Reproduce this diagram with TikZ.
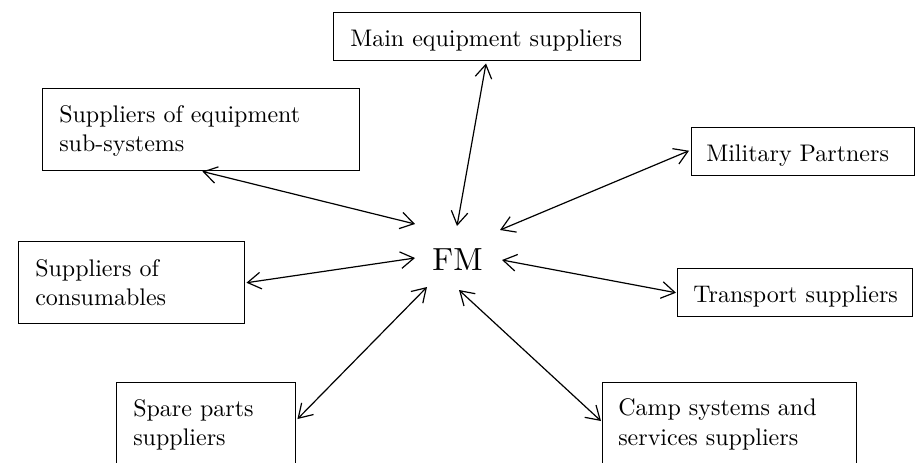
\documentclass[tikz,border=0pt]{standalone}
\usepackage{fontspec}
% Latin Modern in its 10pt design, also at the large sizes used here
\setmainfont{lmroman10-regular}[Extension=.otf]
\usetikzlibrary{arrows.meta,calc}
\begin{document}
\begin{tikzpicture}[x=0.75pt,y=-0.75pt,
  box/.style={draw, line width=1.1pt, inner sep=0pt, anchor=north west},
  lbl/.style={inner sep=0pt, anchor=base west, align=left,
              font=\fontsize{18}{22}\selectfont},
  barb/.tip={Straight Barb[length=10pt,width=12.5pt,line width=0.9pt]},
  link/.style={line width=0.9pt, barb-barb}
]
\useasboundingbox (0,0) rectangle (917,462);

% partner boxes (position = top-left corner, sizes in px)
\node[box, minimum width=307*0.75pt, minimum height=48*0.75pt]  (main)  at (333,12)  {};
\node[box, minimum width=317*0.75pt, minimum height=82*0.75pt]  (sub)   at (42,88)   {};
\node[box, minimum width=226*0.75pt, minimum height=82*0.75pt]  (cons)  at (18,241)  {};
\node[box, minimum width=179*0.75pt, minimum height=100*0.75pt] (spare) at (116,382) {};
\node[box, minimum width=254*0.75pt, minimum height=100*0.75pt] (camp)  at (602,382) {};
\node[box, minimum width=223*0.75pt, minimum height=48*0.75pt]  (mil)   at (691,127) {};
\node[box, minimum width=235*0.75pt, minimum height=48*0.75pt]  (trans) at (677,268) {};

% box captions: one-line captions sit on their baseline 34px below the top,
% two-line captions are placed by the baseline of their second line
\node[lbl] (main-t)  at ($(main.north west)+(17,34)$)    {Main equipment suppliers};
\node[lbl] (sub-t)   at ($(sub.north west)+(17,63.5)$)   {Suppliers of equipment\\sub-systems};
\node[lbl] (cons-t)  at ($(cons.north west)+(17,64.5)$)  {Suppliers of\\consumables};
\node[lbl] (spare-t) at ($(spare.north west)+(17,63.5)$) {Spare parts\\suppliers};
\node[lbl] (camp-t)  at ($(camp.north west)+(16,63)$)    {Camp systems and\\services suppliers};
\node[lbl] (mil-t)   at ($(mil.north west)+(15,34)$)     {Military Partners};
\node[lbl] (trans-t) at ($(trans.north west)+(16,34)$)   {Transport suppliers};

% central actor
\node[inner sep=0pt, font=\fontsize{24}{28}\selectfont] (fm) at (457.5,260) {FM};

% connector ends around FM
\coordinate (f-main)  at ($(fm)+(-0.5,-34)$);
\coordinate (f-sub)   at ($(fm)+(-42.5,-36)$);
\coordinate (f-cons)  at ($(fm)+(-42.5,-2)$);
\coordinate (f-spare) at ($(fm)+(-30.5,27)$);
\coordinate (f-camp)  at ($(fm)+(1.5,30)$);
\coordinate (f-mil)   at ($(fm)+(42.5,-30)$);
\coordinate (f-trans) at ($(fm)+(44.5,0)$);

% connector ends on the boxes
\coordinate (b-main)  at ($(main.south west)+(153,2)$);
\coordinate (b-sub)   at ($(sub.south east)+(-158,0)$);
\coordinate (b-cons)  at ($(cons.east)+(1,0)$);
\coordinate (b-spare) at ($(spare.north east)+(1,37)$);
\coordinate (b-camp)  at ($(camp.north west)+(-1,39)$);
\coordinate (b-mil)   at ($(mil.west)+(-2,-1)$);
\coordinate (b-trans) at ($(trans.west)+(-1,0)$);

% two-way links
\draw[link] (b-main)  -- (f-main);
\draw[link] (b-sub)   -- (f-sub);
\draw[link] (b-cons)  -- (f-cons);
\draw[link] (b-spare) -- (f-spare);
\draw[link] (b-camp)  -- (f-camp);
\draw[link] (b-mil)   -- (f-mil);
\draw[link] (b-trans) -- (f-trans);
\end{tikzpicture}
\end{document}
